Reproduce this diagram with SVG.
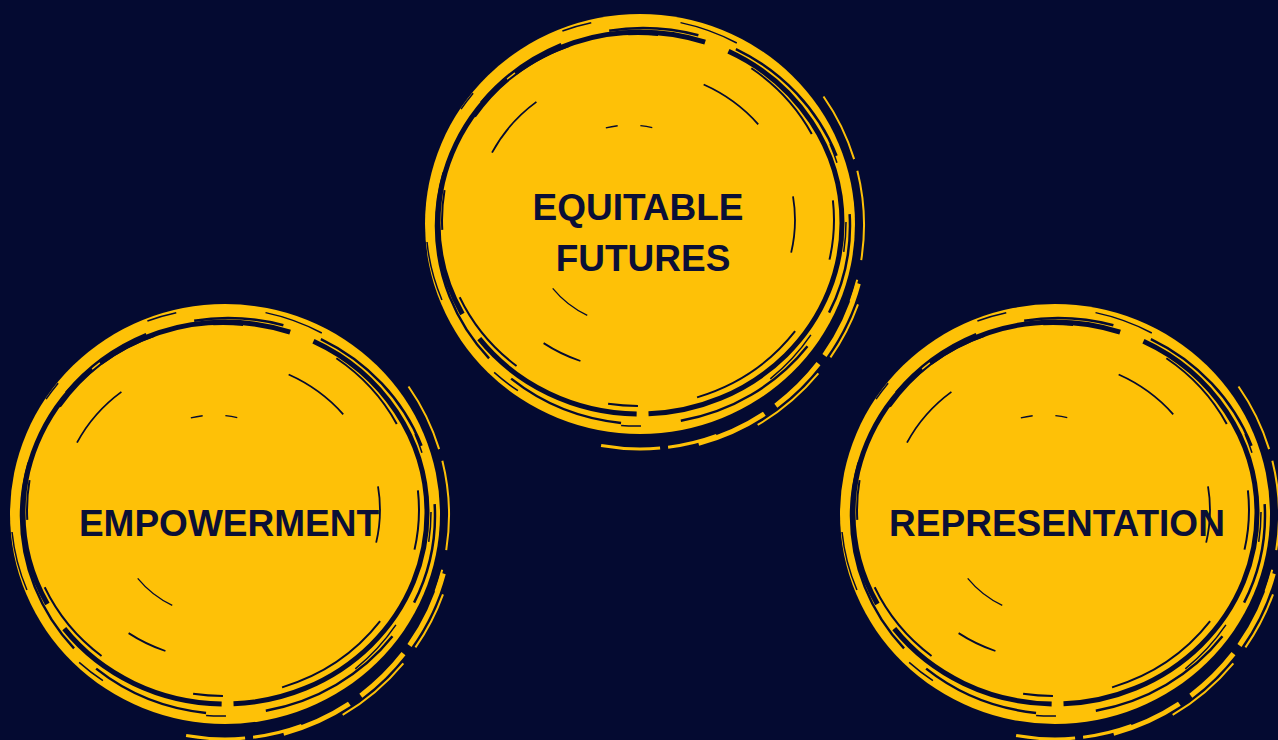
<svg xmlns="http://www.w3.org/2000/svg" xmlns:xlink="http://www.w3.org/1999/xlink" width="1278" height="740" viewBox="0 0 1278 740">
<style>
.bg{fill:#040A31}
.y{fill:#FEC107}
.ys{fill:none;stroke:#FEC107;stroke-linecap:butt}
.d{fill:none;stroke:#040A31;stroke-linecap:butt}
.lbl{font-family:"Liberation Sans",Arial,sans-serif;font-weight:bold;font-size:37px;fill:#0B0F36;text-anchor:middle}
</style>
<defs>
<g id="scribble">
  <!-- outer tail strokes -->
  <path class="ys" d="M183.5 -128.5 A224 224 0 0 1 210.5 76.6" stroke-width="2" stroke-dasharray="70 12 90 20 200"/>
  <path class="ys" d="M218.3 58.5 A226 226 0 0 1 58.5 218.3" stroke-width="5" stroke-dasharray="80 10 60 14 200"/>
  <path class="ys" d="M76.6 210.5 A224 224 0 0 1 -38.9 220.6" stroke-width="3" stroke-dasharray="50 8 80"/>
  <path class="ys" d="M218 79.3 A232 232 0 0 1 116 200.9" stroke-width="2" stroke-dasharray="60 20 80"/>
  <!-- main body -->
  <ellipse class="y" cx="0" cy="-1" rx="215" ry="210"/>
  <!-- dark rings -->
  <ellipse class="d" cx="0" cy="-2" rx="202" ry="191" stroke-width="5" stroke-dasharray="300 12 180 30 260 10 200 25 300"/>
  <ellipse class="d" cx="3" cy="1" rx="207" ry="198" stroke-width="2.5" stroke-dasharray="90 40 150 60 120 30 200 80 100 50"/>
  <ellipse class="d" cx="-2" cy="-5" rx="196" ry="186" stroke-width="2" stroke-dasharray="40 80 120 60 30 100 90 70"/>
  <ellipse class="d" cx="-4" cy="-3" rx="210" ry="204" stroke-width="1.5" stroke-dasharray="30 90 60 140 20 110"/>
  <!-- inner marks -->
  <ellipse class="d" cx="-5" cy="-5" rx="160" ry="150" stroke-width="1.8" stroke-dasharray="33 266 41 217 68 176 68 81 27"/>
  <circle class="d" cx="-10" cy="0" r="100" stroke-width="1.3" stroke-dasharray="0 201 44 201 12 23 12 136"/>
</g>
</defs>
<rect class="bg" x="0" y="0" width="1278" height="740"/>
<g id="connectors"/>
<g id="node-equitable-futures">
  <use xlink:href="#scribble" href="#scribble" transform="translate(640,225)"/>
  <text class="lbl" x="638" y="220">EQUITABLE</text>
  <text class="lbl" x="643" y="271">FUTURES</text>
</g>
<g id="node-empowerment">
  <use xlink:href="#scribble" href="#scribble" transform="translate(225,515)"/>
  <text class="lbl" x="229" y="536">EMPOWERMENT</text>
</g>
<g id="node-representation">
  <use xlink:href="#scribble" href="#scribble" transform="translate(1055,515)"/>
  <text class="lbl" x="1057" y="536">REPRESENTATION</text>
</g>
</svg>
